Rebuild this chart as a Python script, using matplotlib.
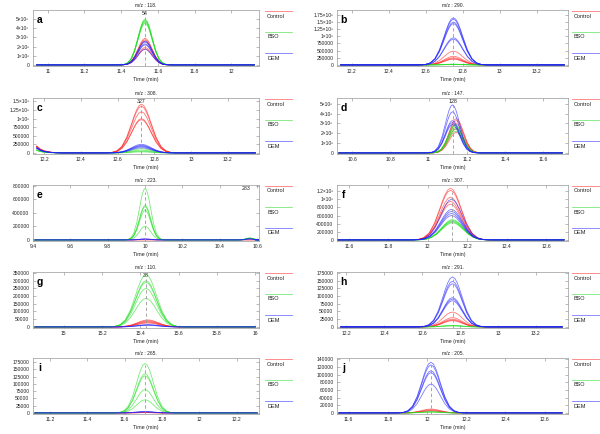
import numpy as np
import matplotlib
matplotlib.use('Agg')
import matplotlib.pyplot as plt
from matplotlib.lines import Line2D
from matplotlib.ticker import FixedLocator, FuncFormatter

plt.rcParams['font.family'] = ['Liberation Sans', 'DejaVu Sans']

# panel info
letters = ['a', 'b', 'c', 'd', 'e', 'f', 'g', 'h', 'i', 'j']
mz = ['118.', '290.', '308.', '147.', '223.', '307.', '110.', '291.', '265.', '205.']
centers = [11.53, 12.75, 12.73, 11.13, 10.0, 12.12, 15.43, 12.76, 11.71, 12.02]
sigmas = [0.038, 0.05, 0.053, 0.037, 0.03, 0.054, 0.054, 0.05, 0.045, 0.047]
peak_ids = ['54', '', '327', '128', '283', '', '38', '', '', '']
peak_id_x = [11.53, None, 12.73, 11.13, 10.54, None, 15.43, None, None, None]
data_range = [(10.94, 12.125), (12.14, 13.35), (12.16, 13.35), (10.53, 11.70), (9.41, 10.59),
              (11.54, 12.69), (14.85, 16.0), (12.17, 13.34), (11.12, 12.31), (11.55, 12.69)]
xlims = [(10.92, 12.15), (12.12, 13.37), (12.14, 13.37), (10.52, 11.73), (9.40, 10.61),
         (11.54, 12.71), (14.84, 16.02), (12.15, 13.37), (11.11, 12.32), (11.54, 12.72)]
xticks = [[11, 11.2, 11.4, 11.6, 11.8, 12], [12.2, 12.4, 12.6, 12.8, 13, 13.2],
          [12.2, 12.4, 12.6, 12.8, 13, 13.2], [10.6, 10.8, 11, 11.2, 11.4, 11.6],
          [9.4, 9.6, 9.8, 10, 10.2, 10.4, 10.6], [11.6, 11.8, 12, 12.2, 12.4, 12.6],
          [15, 15.2, 15.4, 15.6, 15.8, 16], [12.2, 12.4, 12.6, 12.8, 13, 13.2],
          [11.2, 11.4, 11.6, 11.8, 12, 12.2], [11.6, 11.8, 12, 12.2, 12.4, 12.6]]
ytops = [6.0e6, 1.92e6, 1.6e6, 5.6e6, 810000, 1.35e6, 356000, 178000, 189000, 143000]
yticks = [[0, 1e6, 2e6, 3e6, 4e6, 5e6],
          [0, 250000, 500000, 750000, 1e6, 1.25e6, 1.5e6, 1.75e6],
          [0, 250000, 500000, 750000, 1e6, 1.25e6, 1.5e6],
          [0, 1e6, 2e6, 3e6, 4e6, 5e6],
          [0, 200000, 400000, 600000, 800000],
          [0, 200000, 400000, 600000, 800000, 1e6, 1.2e6],
          [0, 50000, 100000, 150000, 200000, 250000, 300000, 350000],
          [0, 25000, 50000, 75000, 100000, 125000, 150000, 175000],
          [0, 25000, 50000, 75000, 100000, 125000, 150000, 175000],
          [0, 20000, 40000, 60000, 80000, 100000, 120000, 140000]]

# peak heights of the replicate traces
ctrl = [[2.9e6, 2.75e6, 2.6e6, 1.9e6, 1.75e6],
        [480000, 300000, 250000, 220000, 200000],
        [1.42e6, 1.36e6, 1.2e6, 1.0e6, 0.97e6],
        [3.5e6, 3.3e6, 3.0e6, 2.5e6, 2.1e6],
        [1500, 1000],
        [1.27e6, 1.22e6, 1.05e6, 0.95e6, 0.88e6],
        [45000, 40000, 35000, 30000, 25000],
        [48000, 30000, 25000, 22000, 20000],
        [1500, 1000, 1000],
        [10000, 8000, 6000, 5000]]
bso = [[5.0e6, 4.9e6, 4.8e6, 4.7e6, 4.55e6],
       [25000, 20000, 15000, 10000],
       [120000, 80000, 50000, 30000],
       [2.9e6, 2.8e6, 2.6e6, 2.4e6, 2.2e6],
       [760000, 510000, 490000, 440000, 200000],
       [500000, 480000, 460000, 440000, 420000],
       [340000, 300000, 290000, 250000, 185000],
       [5000, 4000, 3000],
       [170000, 135000, 128000, 80000, 45000],
       [3000, 2500, 2000]]
dem = [[2.6e6, 2.5e6, 2.3e6, 2.2e6, 1.7e6],
       [1.65e6, 1.6e6, 1.5e6, 1.45e6, 0.95e6, 0.9e6],
       [250000, 220000, 200000, 180000, 150000],
       [4.9e6, 4.2e6, 3.3e6, 3.1e6, 2.9e6],
       [15000, 12000, 10000],
       [1.0e6, 0.75e6, 0.7e6, 0.65e6, 0.6e6],
       [15000, 12000, 10000],
       [162000, 148000, 140000, 95000, 90000, 85000],
       [5000, 4000, 3000],
       [132000, 125000, 110000, 105000, 75000]]
# small retention time shifts per group
shifts = [(0, 0, 0), (0, 0, 0), (0, 0, 0), (0.015, 0.01, -0.005), (0, 0, 0),
          (-0.005, 0.005, 0), (0.01, 0, 0.01), (0, 0, 0), (0, 0, 0), (0, 0, 0)]

# shape of one peak (offset in sigma, relative height)
peak_off = [-4, -3.5, -3, -2.5, -2, -1.5, -1, -0.75, -0.5, -0.25, 0,
            0.25, 0.5, 0.75, 1, 1.5, 2, 2.5, 3, 3.5, 4]
peak_shape = [0.0003, 0.002, 0.011, 0.044, 0.135, 0.325, 0.607, 0.755, 0.882, 0.969, 1.0,
              0.969, 0.882, 0.755, 0.607, 0.325, 0.135, 0.044, 0.011, 0.002, 0.0003]
# panel c starts on the tail of an earlier peak
tail_off = [0, 0.02, 0.04, 0.07, 0.1, 0.14]
tail_shape = [1.0, 0.55, 0.3, 0.12, 0.04, 0.0]
c_tail = [200000, 90000, 150000]
# panel e has a small late bump
e_bump_x = 10.56
e_bump = [0, 25000, 15000]

colors = ['#ff2020', '#20dd20', '#2020ff']
groups = ['Control', 'BSO', 'DEM']

W, H = 600, 434
fig = plt.figure(figsize=(6, 4.34), dpi=100)

row_off = [0, 88, 175, 262, 348]


def sci(v, pos=None):
    if v >= 1e6:
        return '%g×10⁶' % (v / 1e6)
    return '%d' % v


for k in range(10):
    row = k // 2
    col = k % 2
    r0 = row_off[row]
    if col == 0:
        left, right = 33, 259
    else:
        left, right = 337, 568
    top, bottom = r0 + 10, r0 + 66
    ax = fig.add_axes([left / W, 1 - bottom / H, (right - left) / W, (bottom - top) / H])

    x0, x1 = data_range[k]
    c = centers[k]
    s = sigmas[k]
    for g, heights in enumerate([ctrl[k], bso[k], dem[k]]):
        for h in heights:
            cc = c + shifts[k][g]
            xs = [x0]
            ys = [0]
            if k == 2:
                xs = [x0 + t for t in tail_off]
                ys = [c_tail[g] * (0.7 + 0.3 * h / max(heights)) * v for v in tail_shape]
            xs += [cc + o * s for o in peak_off]
            ys += [h * v for v in peak_shape]
            if k == 4 and e_bump[g] > 0:
                xs += [e_bump_x + o * 0.02 for o in peak_off]
                ys += [e_bump[g] * v for v in peak_shape]
            xs.append(x1)
            ys.append(0)
            ax.plot(xs, ys, color=colors[g], lw=0.6, alpha=0.6)

    ax.axvline(c, ymax=0.88, color='#999999', ls=(0, (4, 3)), lw=0.6)
    if peak_ids[k]:
        ax.text(peak_id_x[k], ytops[k] * 0.93, peak_ids[k], ha='center', va='center',
                fontsize=3.8, color='#222222')
    ax.text(0.03, 0.82, letters[k], transform=ax.transAxes, fontsize=7.5,
            fontweight='bold', ha='center', va='center')
    ax.set_title('m/z : ' + mz[k], fontsize=3.6, pad=2.5, color='#222222')
    ax.set_xlim(xlims[k])
    ax.set_ylim(-ytops[k] * 0.02, ytops[k])
    ax.xaxis.set_major_locator(FixedLocator(xticks[k]))
    ax.xaxis.set_major_formatter(FuncFormatter(lambda v, p: '%g' % v))
    ax.yaxis.set_major_locator(FixedLocator(yticks[k]))
    ax.yaxis.set_major_formatter(FuncFormatter(sci))
    ax.tick_params(direction='in', length=2, width=0.4, color='#888888', labelsize=3.6,
                   labelcolor='#222222', pad=2.5, top=True, right=True)
    ax.set_xlabel('Time (min)', fontsize=3.8, labelpad=1.5, color='#222222')
    for sp in ax.spines.values():
        sp.set_color('#999999')
        sp.set_linewidth(0.5)

    # legend on the right of each panel
    lx0 = right + 6 if col == 0 else right + 4
    lx1 = lx0 + 27
    for g in range(3):
        ly = r0 + 11 + g * 21
        fig.add_artist(Line2D([lx0 / W, lx1 / W], [1 - ly / H, 1 - ly / H],
                              color=colors[g], lw=0.6, alpha=0.6, transform=fig.transFigure))
        fig.text((lx0 + 2) / W, 1 - (ly + 5) / H, groups[g], fontsize=4, color='#222222',
                 va='center', ha='left')

plt.savefig('out.png', dpi=100)
